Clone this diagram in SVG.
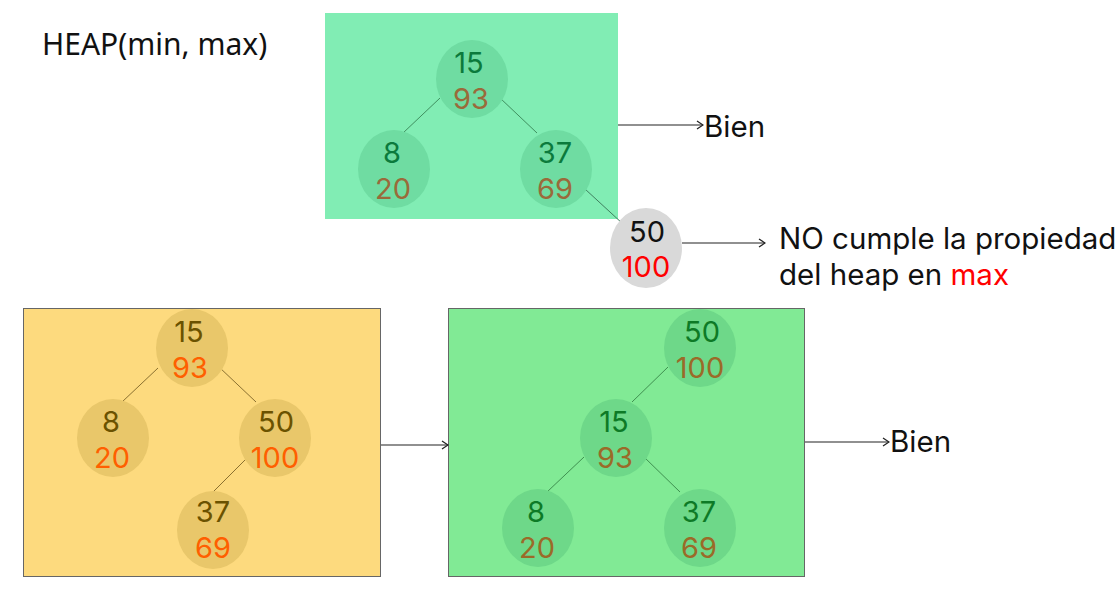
<svg xmlns="http://www.w3.org/2000/svg" width="1120" height="603" viewBox="0 0 1120 603">
<defs>
<marker id="ah" viewBox="0 0 8 10" refX="7" refY="5" markerWidth="8" markerHeight="10" markerUnits="userSpaceOnUse" orient="auto">
<path d="M1,1 L7,5 L1,9" fill="none" stroke="#222" stroke-width="1.3"/>
</marker>
</defs>
<style>
text{font-family:Inter,"Liberation Sans",sans-serif;font-size:29px;text-anchor:middle}
.lbl{text-anchor:start;fill:#111;font-size:29.5px}
.t1 .a{fill:#0b7a3c}.t1 .b{fill:#9a6a3a}
.t2 .a{fill:#6b5200}.t2 .b{fill:#ff5f00}
.t3 .a{fill:#0d7a26}.t3 .b{fill:#9b6a28}
.e1{fill:#6fdca2}.e2{fill:#e9c76a}.e3{fill:#6ed889}
.edge{stroke-width:1;fill:none}
.arr{stroke:#222;stroke-width:1.2;fill:none;marker-end:url(#ah)}
</style>
<rect x="325" y="13" width="293" height="206" fill="#81edb4"/>
<rect x="23.5" y="308.5" width="357" height="268" fill="#fdda7e" stroke="#666" stroke-width="1"/>
<rect x="448.5" y="308.5" width="356" height="268" fill="#81ea95" stroke="#666" stroke-width="1"/>
<text class="lbl" x="42" y="55" style="font-family:'Noto Sans','Open Sans',sans-serif;font-size:30px">HEAP(min, max)</text>
<g id="connectors">
<line class="edge" x1="440" y1="98" x2="403" y2="133" stroke="#3f8f5f"/>
<line class="edge" x1="500" y1="98" x2="537" y2="133" stroke="#3f8f5f"/>
<line class="edge" x1="585" y1="189" x2="623" y2="224" stroke="#3f7f5f"/>
<line class="edge" x1="158" y1="368" x2="122" y2="402" stroke="#8a7030"/>
<line class="edge" x1="219" y1="367" x2="256" y2="402" stroke="#8a7030"/>
<line class="edge" x1="248" y1="457" x2="213" y2="492" stroke="#8a7030"/>
<line class="edge" x1="668" y1="367" x2="632" y2="402" stroke="#3f9050"/>
<line class="edge" x1="584" y1="457" x2="547" y2="492" stroke="#3f9050"/>
<line class="edge" x1="644" y1="457" x2="680" y2="492" stroke="#3f9050"/>
<line class="arr" x1="618" y1="125" x2="703" y2="125"/>
<line class="arr" x1="682" y1="243" x2="765" y2="243"/>
<line class="arr" x1="381" y1="445" x2="448" y2="445"/>
<line class="arr" x1="805" y1="442" x2="889" y2="442"/>
</g>
<g id="t1-15" class="t1"><ellipse class="e1" cx="472" cy="79" rx="36" ry="39"/><text class="a" x="469" y="73">15</text><text class="b" x="471" y="109">93</text></g>
<g id="t1-8" class="t1"><ellipse class="e1" cx="394" cy="169" rx="36" ry="39"/><text class="a" x="392" y="163">8</text><text class="b" x="393" y="199">20</text></g>
<g id="t1-37" class="t1"><ellipse class="e1" cx="556" cy="169" rx="36" ry="39"/><text class="a" x="555" y="163">37</text><text class="b" x="555" y="199">69</text></g>
<g id="n50" ><ellipse cx="646" cy="248" rx="36" ry="40" fill="#d9d9d9"/><text x="647" y="242" fill="#111">50</text><text x="646" y="277" fill="#ff0000">100</text></g>
<g id="bien1"><text class="lbl" x="704" y="137">Bien</text></g>
<g id="note"><text class="lbl" x="779" y="249">NO cumple la propiedad</text><text class="lbl" x="779" y="285">del heap en <tspan fill="#ff0000">max</tspan></text></g>
<g id="t2-15" class="t2"><ellipse class="e2" cx="192" cy="348" rx="36" ry="39"/><text class="a" x="189" y="342">15</text><text class="b" x="190" y="378">93</text></g>
<g id="t2-8" class="t2"><ellipse class="e2" cx="113" cy="438" rx="36" ry="39"/><text class="a" x="111" y="432">8</text><text class="b" x="112" y="468">20</text></g>
<g id="t2-50" class="t2"><ellipse class="e2" cx="275" cy="438" rx="36" ry="39"/><text class="a" x="276" y="432">50</text><text class="b" x="275" y="468">100</text></g>
<g id="t2-37" class="t2"><ellipse class="e2" cx="213" cy="530" rx="36" ry="39"/><text class="a" x="213" y="522">37</text><text class="b" x="213" y="558">69</text></g>
<g id="t3-50" class="t3"><ellipse class="e3" cx="700" cy="348" rx="36" ry="39"/><text class="a" x="702" y="342">50</text><text class="b" x="700" y="378">100</text></g>
<g id="t3-15" class="t3"><ellipse class="e3" cx="616" cy="438" rx="36" ry="39"/><text class="a" x="614" y="432">15</text><text class="b" x="615" y="468">93</text></g>
<g id="t3-8" class="t3"><ellipse class="e3" cx="538" cy="528" rx="36" ry="39"/><text class="a" x="536" y="522">8</text><text class="b" x="537" y="558">20</text></g>
<g id="t3-37" class="t3"><ellipse class="e3" cx="700" cy="528" rx="36" ry="39"/><text class="a" x="699" y="522">37</text><text class="b" x="699" y="558">69</text></g>
<g id="bien2"><text class="lbl" x="890" y="452">Bien</text></g>
</svg>
